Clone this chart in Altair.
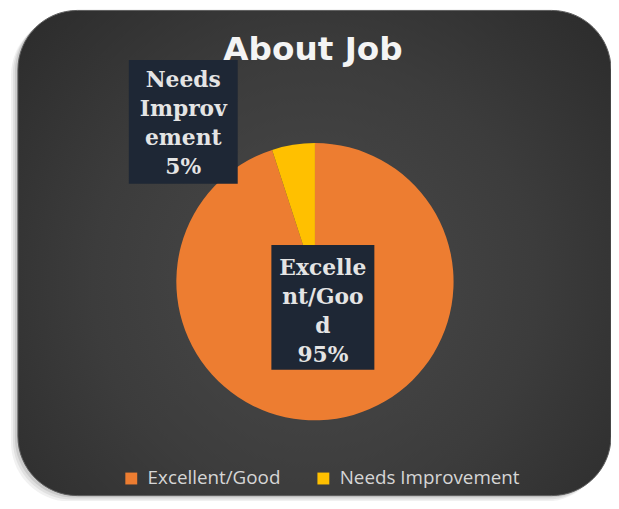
import altair as alt
import pandas as pd

# ---- data ----
categories = ["Excellent/Good", "Needs Improvement"]
values = [95, 5]
slice_colors = ["#ED7D31", "#FFC000"]
label_texts = ["Excelle\nnt/Goo\nd\n95%", "Needs\nImprov\nement\n5%"]
title_text = "About Job"

df = pd.DataFrame({"category": categories, "value": values, "label": label_texts,
                   "idx": list(range(len(categories)))})
one = pd.DataFrame({"k": [0]})

W, H = 609, 493

# ---- background card with shadow ----
shadows = []
for dx, dy, op in [(-7, 6, 0.10), (-5, 4, 0.14), (-3, 2, 0.2)]:
    shadows.append(
        alt.Chart(one).mark_rect(cornerRadius=60, color="#7a7a7a", opacity=op).encode(
            x=alt.value(10 + dx), x2=alt.value(W + dx),
            y=alt.value(0 + dy), y2=alt.value(490 + dy))
    )

card = alt.Chart(one).mark_rect(
    cornerRadius=60,
    stroke="#5c5c5c", strokeWidth=1,
    color=alt.Gradient(
        gradient="radial",
        stops=[alt.GradientStop(color="#4a4a4a", offset=0),
               alt.GradientStop(color="#3c3c3c", offset=0.5),
               alt.GradientStop(color="#272727", offset=1)],
        x1=0.5, y1=0.55, r1=0, x2=0.5, y2=0.55, r2=0.75)
).encode(x=alt.value(10), x2=alt.value(W), y=alt.value(0), y2=alt.value(490))

# ---- pie ----
pie = alt.Chart(df).mark_arc(outerRadius=140).encode(
    theta=alt.Theta("value:Q", stack=True),
    order=alt.Order("idx:Q"),
    color=alt.Color("category:N",
                    scale=alt.Scale(domain=categories, range=slice_colors),
                    legend=alt.Legend(title=None, orient="none", direction="horizontal",
                                      legendX=115, legendY=463,
                                      symbolType="square", symbolSize=144,
                                      symbolStrokeWidth=0, labelOffset=7,
                                      columnPadding=33, labelLimit=400,
                                      labelFont="Open Sans", labelFontSize=19,
                                      labelColor="#d6d6d6")),
    x=alt.value(310), y=alt.value(274),
)

# ---- data label boxes ----
box_ni = alt.Chart(one).mark_rect(color="#1e2735").encode(
    x=alt.value(122), x2=alt.value(232), y=alt.value(50), y2=alt.value(175))
box_ex = alt.Chart(one).mark_rect(color="#1e2735").encode(
    x=alt.value(266), x2=alt.value(370), y=alt.value(237), y2=alt.value(363))

txt_style = dict(font="DejaVu Serif", fontWeight="bold", fontSize=22, color="#e4e4e4",
                 align="center", baseline="alphabetic", lineBreak="\n", lineHeight=29.5)
txt_ex = alt.Chart(df).transform_filter(
    alt.datum.category == categories[0]).mark_text(**txt_style).encode(
    text="label:N", x=alt.value(318), y=alt.value(267))
txt_ni = alt.Chart(df).transform_filter(
    alt.datum.category == categories[1]).mark_text(**txt_style).encode(
    text="label:N", x=alt.value(177), y=alt.value(77))

# ---- title ----
title_df = pd.DataFrame({"t": [title_text]})
title = alt.Chart(title_df).mark_text(
    font="DejaVu Sans", fontWeight="bold", fontSize=33, color="#f4f4f4",
    align="center", baseline="alphabetic").encode(
    text="t:N", x=alt.value(308), y=alt.value(50))

chart = alt.layer(*shadows, card, pie, box_ni, box_ex, txt_ex, txt_ni,
                  title).properties(
    width=W, height=H, padding=0, background="white",
    autosize=alt.AutoSizeParams(type="none")
).configure_view(stroke=None)

chart.save("out.html", embed_options={"renderer": "svg", "actions": False})
